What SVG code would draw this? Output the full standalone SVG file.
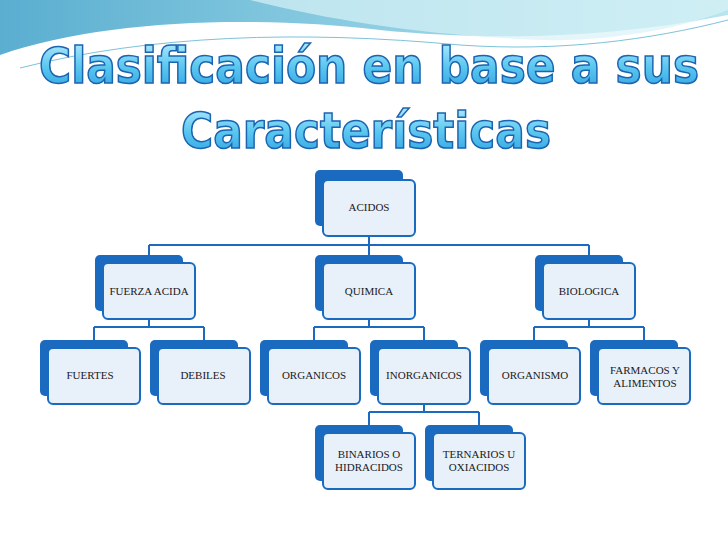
<svg xmlns="http://www.w3.org/2000/svg" width="728" height="546" viewBox="0 0 728 546">
<defs>
<linearGradient id="wave" x1="0" y1="0" x2="1" y2="0"><stop offset="0" stop-color="#5aaed0"/><stop offset="0.5" stop-color="#8ccde2"/><stop offset="1" stop-color="#b8e6ef"/></linearGradient>
<linearGradient id="tg" x1="0" y1="0" x2="0" y2="1"><stop offset="0" stop-color="#bff0ff"/><stop offset="0.5" stop-color="#5cc8f0"/><stop offset="1" stop-color="#2a9ee0"/></linearGradient>
<style>
.bk{fill:#1a6bc0}
.fr{fill:#e8f0fa;stroke:#1a6bc0;stroke-width:2}
.t{font-family:"Liberation Serif",serif;font-size:11px;fill:#1a1a1a;text-anchor:middle}
.c{fill:none;stroke:#1a6bc0;stroke-width:2}
.title{font-family:"DejaVu Sans Condensed","DejaVu Sans",sans-serif;font-weight:bold;font-size:50px;fill:url(#tg);stroke:#1c64b0;stroke-width:1.5;text-anchor:middle}
</style>
</defs>
<rect width="728" height="546" fill="#ffffff"/>
<path d="M0,0 H728 V15 C600,40 480,40 380,30 C250,15 100,20 0,55 Z" fill="url(#wave)"/>
<path d="M250,0 C330,20 420,35 540,40 C620,42 690,25 728,10 V0 Z" fill="#d8f2f6" opacity="0.7"/>
<path d="M20,68 C150,35 300,30 460,45 C560,52 650,40 728,20" fill="none" stroke="#7cc3da" stroke-width="1"/>
<text class="title" x="369" y="83" textLength="660" lengthAdjust="spacingAndGlyphs">Clasificación en base a sus</text>
<text class="title" x="366" y="148" textLength="370" lengthAdjust="spacingAndGlyphs">Características</text>
<g id="connectors">
<path class="c" d="M369,236 V245 M149,245 H589 M149,245 V263 M369,245 V263 M589,245 V263"/>
<path class="c" d="M149,318 V327 M94,327 H204 M94,327 V348 M204,327 V348"/>
<path class="c" d="M369,318 V327 M314,327 H424 M314,327 V348 M424,327 V348"/>
<path class="c" d="M589,318 V327 M534,327 H644 M534,327 V348 M644,327 V348"/>
<path class="c" d="M424,405 V412 M369,412 H479 M369,412 V433 M479,412 V433"/>
</g>
<g id="acidos"><rect class="bk" x="315" y="170" width="88" height="56" rx="5"/><rect class="fr" x="323" y="180" width="92" height="56" rx="5"/><text class="t" x="369" y="211">ACIDOS</text></g>
<g id="fuerza"><rect class="bk" x="95" y="255" width="88" height="56" rx="5"/><rect class="fr" x="103" y="263" width="92" height="56" rx="5"/><text class="t" x="149" y="295">FUERZA ACIDA</text></g>
<g id="quimica"><rect class="bk" x="315" y="255" width="88" height="56" rx="5"/><rect class="fr" x="323" y="263" width="92" height="56" rx="5"/><text class="t" x="369" y="295">QUIMICA</text></g>
<g id="biologica"><rect class="bk" x="535" y="255" width="88" height="56" rx="5"/><rect class="fr" x="543" y="263" width="92" height="56" rx="5"/><text class="t" x="589" y="295">BIOLOGICA</text></g>
<g id="fuertes"><rect class="bk" x="40" y="340" width="88" height="56" rx="5"/><rect class="fr" x="48" y="348" width="92" height="56" rx="5"/><text class="t" x="90" y="379">FUERTES</text></g>
<g id="debiles"><rect class="bk" x="150" y="340" width="88" height="56" rx="5"/><rect class="fr" x="158" y="348" width="92" height="56" rx="5"/><text class="t" x="203" y="379">DEBILES</text></g>
<g id="organicos"><rect class="bk" x="260" y="340" width="88" height="56" rx="5"/><rect class="fr" x="268" y="348" width="92" height="56" rx="5"/><text class="t" x="314" y="379">ORGANICOS</text></g>
<g id="inorganicos"><rect class="bk" x="370" y="340" width="88" height="56" rx="5"/><rect class="fr" x="378" y="348" width="92" height="56" rx="5"/><text class="t" x="424" y="379">INORGANICOS</text></g>
<g id="organismo"><rect class="bk" x="480" y="340" width="88" height="56" rx="5"/><rect class="fr" x="488" y="348" width="92" height="56" rx="5"/><text class="t" x="535" y="379">ORGANISMO</text></g>
<g id="farmacos"><rect class="bk" x="590" y="340" width="88" height="56" rx="5"/><rect class="fr" x="598" y="348" width="92" height="56" rx="5"/><text class="t" x="645" y="374">FARMACOS Y</text><text class="t" x="645" y="387">ALIMENTOS</text></g>
<g id="binarios"><rect class="bk" x="315" y="425" width="88" height="56" rx="5"/><rect class="fr" x="323" y="433" width="92" height="56" rx="5"/><text class="t" x="369" y="458">BINARIOS O</text><text class="t" x="369" y="471">HIDRACIDOS</text></g>
<g id="ternarios"><rect class="bk" x="425" y="425" width="88" height="56" rx="5"/><rect class="fr" x="433" y="433" width="92" height="56" rx="5"/><text class="t" x="479" y="458">TERNARIOS U</text><text class="t" x="479" y="471">OXIACIDOS</text></g>
</svg>
